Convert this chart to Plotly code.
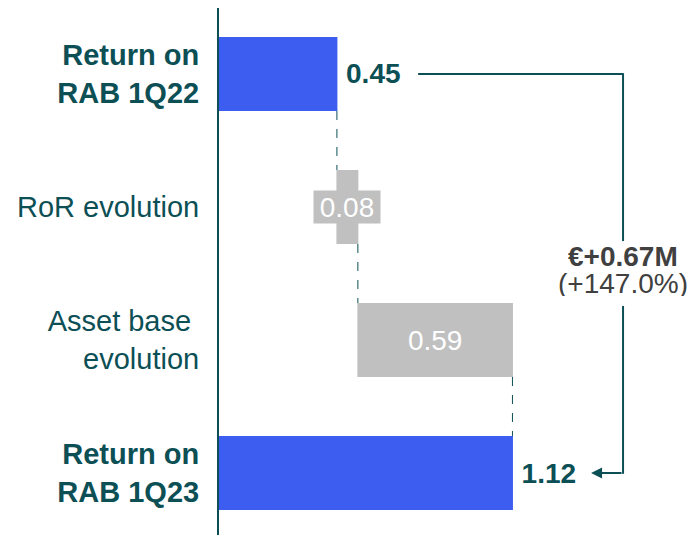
import plotly.graph_objects as go

# chart data
categories = ["Return on RAB 1Q22", "RoR evolution", "Asset base evolution", "Return on RAB 1Q23"]
tick_labels = ["<b>Return on<br>RAB 1Q22</b>", "RoR evolution", "Asset base\u00a0<br>evolution", "<b>Return on<br>RAB 1Q23</b>"]
values = [0.45, 0.08, 0.59, 1.12]
measures = ["absolute", "relative", "relative", "total"]
delta_label = "€+0.67M"
delta_pct = "(+147.0%)"

TEAL = "#0C4F55"
BLUE = "#3C5DF0"
GREY = "#C0C0C0"
FONT = "Liberation Sans, Arial, sans-serif"

# thin space pushes outside labels off the bar end a little
bar_text = ["\u2009<b>%.2f</b>" % values[0], "", "%.2f" % values[2], "\u2009<b>%.2f</b>" % values[3]]
text_pos = ["outside", "none", "inside", "outside"]

fig = go.Figure(
    go.Waterfall(
        orientation="h",
        y=categories,
        x=values,
        measure=measures,
        text=bar_text,
        textposition=text_pos,
        insidetextanchor="middle",
        insidetextfont=dict(family=FONT, size=28, color="white"),
        outsidetextfont=dict(family=FONT, size=28, color=TEAL),
        constraintext="none",
        cliponaxis=False,
        increasing=dict(marker=dict(color=GREY)),
        decreasing=dict(marker=dict(color=GREY)),
        totals=dict(marker=dict(color=BLUE)),
        connector=dict(mode="between", line=dict(color=TEAL, width=1, dash="dash")),
    )
)

# small bar label sits on a grey box
run1 = values[0] + values[1] / 2
fig.add_annotation(
    x=run1, y=categories[1], xref="x", yref="y", text="%.2f" % values[1],
    showarrow=False, font=dict(family=FONT, size=28, color="white"),
    bgcolor=GREY, width=66, height=32, borderpad=0,
)

# bracket from first total to last total
bx = 1.542
fig.add_shape(type="line", xref="x", yref="y", x0=0.76, x1=bx, y0=categories[0], y1=categories[0],
              line=dict(color=TEAL, width=2))
fig.add_shape(type="line", xref="x", yref="y", x0=bx, x1=bx, y0=-0.006, y1=1.256,
              line=dict(color=TEAL, width=2))
fig.add_shape(type="line", xref="x", yref="y", x0=bx, x1=bx, y0=1.744, y1=3.006,
              line=dict(color=TEAL, width=2))
fig.add_annotation(
    x=1.42, y=categories[3], ax=bx, ay=categories[3], xref="x", yref="y", axref="x", ayref="y",
    text="", showarrow=True, arrowhead=2, arrowsize=1.1, arrowwidth=2, arrowcolor=TEAL,
)
fig.add_annotation(x=bx, y=1.372, xref="x", yref="y", text="<b>%s</b>" % delta_label, showarrow=False,
                   font=dict(family=FONT, size=28, color="#404040"), height=26, borderpad=0)
fig.add_annotation(x=bx, y=1.575, xref="x", yref="y", text=delta_pct, showarrow=False,
                   font=dict(family=FONT, size=28, color="#404040"), height=26, borderpad=0)

fig.update_yaxes(
    tickvals=categories, ticktext=tick_labels, automargin=False,
    range=[3.526, -0.496], showline=True, linecolor=TEAL, linewidth=2,
    showgrid=False, zeroline=False, ticks="", ticklabelstandoff=12,
    tickfont=dict(family=FONT, size=29, color=TEAL),
)
fig.update_xaxes(range=[0, 1.851], visible=False, showgrid=False, zeroline=False, automargin=False)

fig.update_layout(
    width=696, height=535,
    margin=dict(l=211, r=0, t=0, b=0),
    plot_bgcolor="white", paper_bgcolor="white",
    waterfallgap=0.444, showlegend=False,
)

fig.write_html("out.html")
